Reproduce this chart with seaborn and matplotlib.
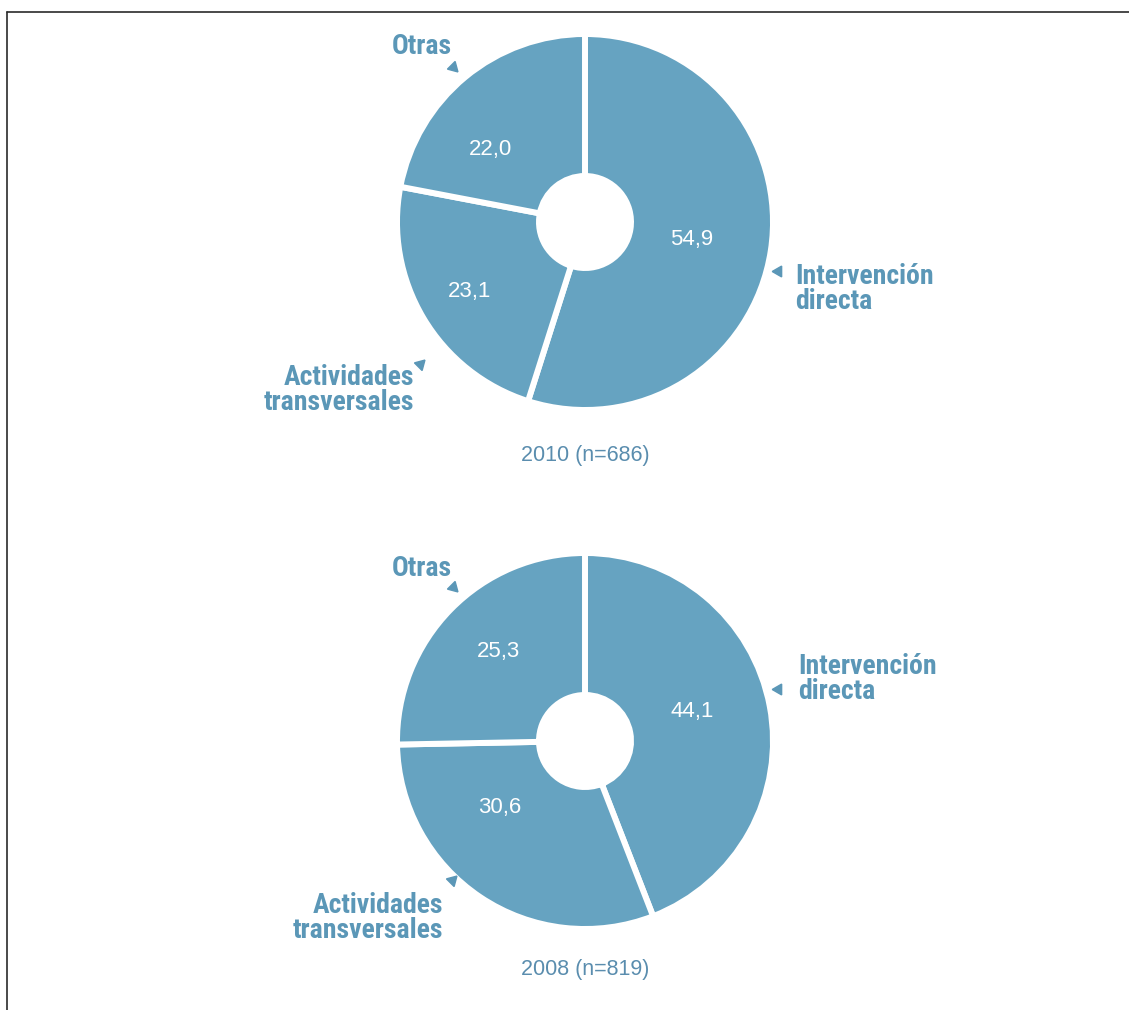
import matplotlib
matplotlib.use("Agg")
import matplotlib.pyplot as plt
import matplotlib.font_manager as fm
from matplotlib.font_manager import FontProperties
from matplotlib.lines import Line2D
import seaborn as sns

# ---------------- data ----------------
categories = ["Intervención\ndirecta", "Actividades\ntransversales", "Otras"]
values_2010 = [54.9, 23.1, 22.0]
values_2008 = [44.1, 30.6, 25.3]
titles = ["2010 (n=686)", "2008 (n=819)"]

# ---------------- style ----------------
sns.set_theme(style="white")
plt.rcParams['font.family'] = ['Liberation Sans', 'DejaVu Sans']

W, H = 1129, 1010
WEDGE = "#66A3C1"
LABEL_C = "#5B97B7"
TITLE_C = "#5A8DAE"


def _is_bold(f):
    w = f.weight
    if isinstance(w, str):
        return w in ('bold', 'heavy', 'black', 'demibold', 'semibold', 'extra bold')
    return w >= 600


def _is_narrow(f):
    s = str(f.stretch).lower()
    n = f.name.lower()
    return ('condensed' in s or 'narrow' in s or 'condensed' in n or 'narrow' in n
            or (isinstance(f.stretch, (int, float)) and f.stretch < 500))


narrow_bold = [f for f in fm.fontManager.ttflist
               if _is_bold(f) and _is_narrow(f) and 'italic' not in str(f.style).lower()
               and 'oblique' not in str(f.style).lower() and 'mono' not in f.name.lower()
               and 'serif' not in f.name.lower().replace('sans', '')]


def _rank(f):
    n = f.name.lower()
    order = ['liberation sans narrow', 'roboto condensed', 'noto sans', 'open sans', 'dejavu sans']
    for i, o in enumerate(order):
        if o in n:
            return i
    return len(order)


narrow_bold.sort(key=_rank)
if narrow_bold:
    LABEL_FP = FontProperties(fname=narrow_bold[0].fname)
else:
    LABEL_FP = FontProperties(family=['Roboto', 'DejaVu Sans'], weight='bold')


def Y(y):  # image row -> data y
    return H - y


fig = plt.figure(figsize=(W / 100, H / 100), dpi=100)
ax = fig.add_axes([0, 0, 1, 1])
ax.set_xlim(0, W)
ax.set_ylim(0, H)
ax.set_aspect('equal')
ax.axis('off')

# fit the label font so that "Intervención" is ~139 px wide
renderer = fig.canvas.get_renderer()
probe_fp = LABEL_FP.copy()
probe_fp.set_size(20)
probe = ax.text(0, 0, "Intervención", fontproperties=probe_fp)
pw = probe.get_window_extent(renderer).width
probe.remove()
label_size = min(20.0, 20.0 * 139.0 / pw)
LABEL_FP.set_size(label_size)

# layout (image px): pie centre, value-label positions, category label positions
layouts = [
    dict(center=(585, 222), title_y=455,
         vals=[(692, 239), (470, 291), (490, 150)],
         lab_int=(795, 289), lab_act=(414, 390), lab_otr=(392, 46),
         tri_int=(778, 271), tri_act=(420, 364), tri_otr=(453, 67)),
    dict(center=(585, 741), title_y=970,
         vals=[(692, 712), (500, 808), (498, 652)],
         lab_int=(798, 679), lab_act=(443, 918), lab_otr=(392, 568),
         tri_int=(778, 689), tri_act=(452, 880), tri_otr=(453, 587)),
]

R, HOLE = 188, 46
for values, title, L in zip([values_2010, values_2008], titles, layouts):
    cx, cy = L['center']
    ax.pie(values, colors=[WEDGE] * len(values), startangle=90, counterclock=False,
           center=(cx, Y(cy)), radius=R, frame=True,
           wedgeprops=dict(width=R - HOLE, edgecolor='white', linewidth=4.3))
    for v, (tx, ty) in zip(values, L['vals']):
        ax.text(tx, Y(ty), f"{v:.1f}".replace('.', ','), color='white', fontsize=16,
                ha='center', va='center')
    ax.text(585, Y(L['title_y']), title, color=TITLE_C, fontsize=15.5,
            ha='center', va='center')
    # category labels
    ax.text(L['lab_int'][0], Y(L['lab_int'][1]), categories[0], color=LABEL_C,
            fontproperties=LABEL_FP, ha='left', va='center', linespacing=0.95)
    ax.text(L['lab_act'][0], Y(L['lab_act'][1]), categories[1], color=LABEL_C,
            fontproperties=LABEL_FP, ha='right', va='center',
            multialignment='right', linespacing=0.95)
    ax.text(L['lab_otr'][0], Y(L['lab_otr'][1]), categories[2], color=LABEL_C,
            fontproperties=LABEL_FP, ha='left', va='center')
    # pointer triangles
    ax.plot(L['tri_int'][0], Y(L['tri_int'][1]), marker=(3, 0, 90), markersize=9,
            color=LABEL_C, linestyle='none')
    ax.plot(L['tri_act'][0], Y(L['tri_act'][1]), marker=(3, 0, -45), markersize=9,
            color=LABEL_C, linestyle='none')
    ax.plot(L['tri_otr'][0], Y(L['tri_otr'][1]), marker=(3, 0, -135), markersize=9,
            color=LABEL_C, linestyle='none')

ax.set_xlim(0, W)
ax.set_ylim(0, H)
ax.axis('off')

# frame lines (top and left)
fig.add_artist(Line2D([7 / W, 1], [1 - 12 / H, 1 - 12 / H], color='#2a2a2a', linewidth=1.2))
fig.add_artist(Line2D([7 / W, 7 / W], [0, 1 - 12 / H], color='#2a2a2a', linewidth=1.2))

fig.savefig("out.png", dpi=100, facecolor='white')
